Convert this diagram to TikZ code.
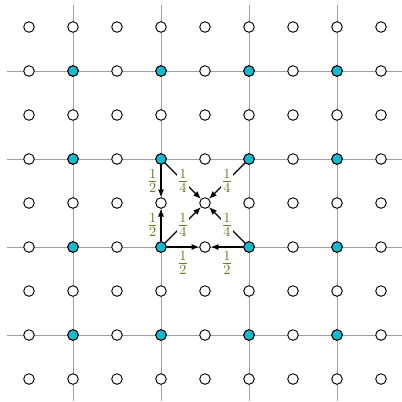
\documentclass[tikz,border=0pt]{standalone}
\usepackage{tikz,amsmath}
\usetikzlibrary{arrows.meta}
\definecolor{dotcyan}{RGB}{22,184,206}
\definecolor{wgtgreen}{RGB}{98,128,32}
\begin{document}
\begin{tikzpicture}[x=10mm,y=-10mm,line width=.6pt,
  pt/.style={circle,draw=black,fill=white,inner sep=0pt,minimum size=2.4mm},
  coarse/.style={pt,fill=dotcyan},
  flow/.style={line width=.8pt,-{Latex[length=5pt,width=4pt]}},
  wgt/.style={text=wgtgreen,inner sep=1.5pt,font=\fontsize{13}{15}\selectfont}]
\path[use as bounding box] (-0.659,-0.614) rectangle (8.477,8.5);
\foreach \k in {1,3,5,7} {
  \draw[gray!75,line width=.6pt] (\k,-0.5) -- (\k,8.5);
  \draw[gray!75,line width=.6pt] (-0.5,\k) -- (8.5,\k);
}
\foreach \i in {0,...,8} {
  \foreach \j in {0,...,8} {
    \node[pt] (p-\i-\j) at (\i,\j) {};
  }
}
\foreach \i in {1,3,5,7} {
  \foreach \j in {1,3,5,7} {
    \node[coarse] (p-\i-\j) at (\i,\j) {};
  }
}
\draw[flow] (p-3-3) -- node[wgt,left] {$\frac{1}{2}$} (p-3-4);
\draw[flow] (p-3-5) -- node[wgt,left] {$\frac{1}{2}$} (p-3-4);
\draw[flow] (p-3-5) -- node[wgt,below=1pt] {$\frac{1}{2}$} (p-4-5);
\draw[flow] (p-5-5) -- node[wgt,below=1pt] {$\frac{1}{2}$} (p-4-5);
\draw[flow] (p-3-3) -- node[wgt,fill=white,inner sep=.5pt] {$\frac{1}{4}$} (p-4-4);
\draw[flow] (p-5-3) -- node[wgt,fill=white,inner sep=.5pt] {$\frac{1}{4}$} (p-4-4);
\draw[flow] (p-3-5) -- node[wgt,fill=white,inner sep=.5pt] {$\frac{1}{4}$} (p-4-4);
\draw[flow] (p-5-5) -- node[wgt,fill=white,inner sep=.5pt] {$\frac{1}{4}$} (p-4-4);
\end{tikzpicture}
\end{document}
